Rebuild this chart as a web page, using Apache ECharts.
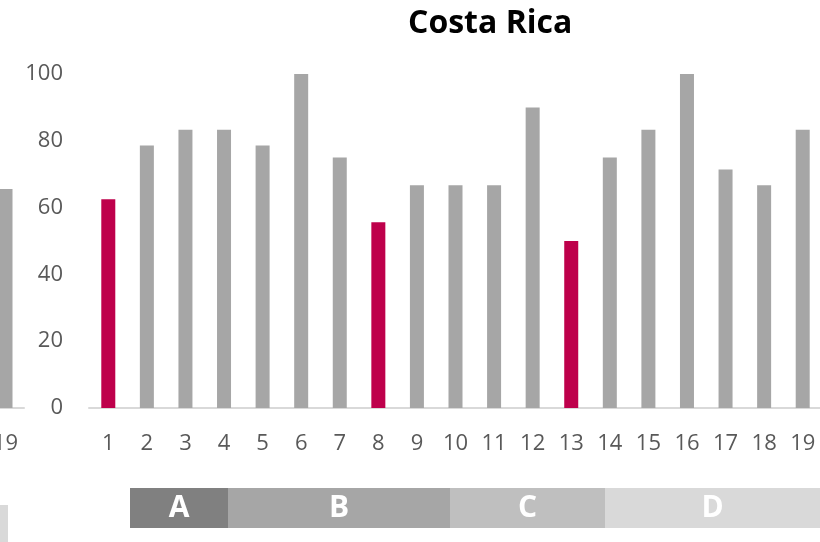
<!DOCTYPE html>
<html>
<head>
<meta charset="utf-8">
<script src="https://cdn.jsdelivr.net/npm/echarts@6/dist/echarts.min.js"></script>
<style>
  html, body { margin: 0; padding: 0; background: #fff; }
  #chart { width: 820px; height: 542px; }
</style>
</head>
<body>
<div id="chart"></div>
<script>
// data
const categories = ['1','2','3','4','5','6','7','8','9','10','11','12','13','14','15','16','17','18','19']
const values = [62.5, 78.6, 83.3, 83.3, 78.6, 100, 75, 55.6, 66.7, 66.7, 66.7, 90, 50, 75, 83.3, 100, 71.4, 66.7, 83.3]
const highlighted = ['1', '8', '13']
const yTicks = [0, 20, 40, 60, 80, 100]

// group strip below the chart (relative widths)
const groupNames = ['A', 'B', 'C', 'D']
const groupWidths = [98, 222, 155, 215]
const groupColors = ['#808080', '#a6a6a6', '#bfbfbf', '#d9d9d9']

// neighbouring chart, cut off at the left edge (last category only)
const prevCategories = ['19']
const prevValues = [65.6]
const prevStrip = [8]

const gray = '#a6a6a6'
const red = '#be004b'
const labelColor = '#595959'
const font = 'Open Sans'

const chart = echarts.init(document.getElementById('chart'))

const groupSeries = groupNames.map((name, i) => ({
  name,
  type: 'bar',
  stack: 'groups',
  xAxisIndex: 2,
  yAxisIndex: 2,
  barWidth: 40,
  silent: true,
  itemStyle: { color: groupColors[i] },
  label: {
    show: true,
    position: 'inside',
    formatter: name,
    color: '#fff',
    fontSize: 30,
    fontWeight: 'bold',
    fontFamily: font
  },
  data: [groupWidths[i]]
}))

chart.setOption({
  animation: false,
  textStyle: { fontFamily: font },
  title: {
    text: 'Costa Rica',
    left: 403,
    top: 3,
    textStyle: { fontSize: 32, fontWeight: 'bold', color: '#000', fontFamily: font }
  },
  grid: [
    { left: 89, right: -2, top: 74, bottom: 134, outerBoundsMode: 'none' },
    { left: -13, width: 37, top: 74, bottom: 134, outerBoundsMode: 'none' },
    { left: 130, right: 0, top: 488, height: 40, outerBoundsMode: 'none' },
    { left: 0, width: 8, top: 505, height: 37, outerBoundsMode: 'none' }
  ],
  xAxis: [
    {
      gridIndex: 0,
      type: 'category',
      data: categories,
      axisLine: { lineStyle: { color: '#d9d9d9', width: 2 } },
      axisTick: { show: false },
      axisLabel: { color: labelColor, fontSize: 22, margin: 25 }
    },
    {
      gridIndex: 1,
      type: 'category',
      data: prevCategories,
      axisLine: { lineStyle: { color: '#d9d9d9', width: 2 } },
      axisTick: { show: false },
      axisLabel: { color: labelColor, fontSize: 22, margin: 25 }
    },
    {
      gridIndex: 2,
      type: 'value',
      min: 0,
      max: groupWidths.reduce((a, b) => a + b, 0),
      show: false
    },
    { gridIndex: 3, type: 'value', min: 0, max: prevStrip[0], show: false }
  ],
  yAxis: [
    {
      gridIndex: 0,
      type: 'value',
      min: 0,
      max: 100,
      interval: 20,
      axisLine: { show: false },
      axisTick: { show: false },
      splitLine: { show: false },
      axisLabel: {
        color: labelColor,
        fontSize: 22,
        margin: 26,
        formatter: v => (yTicks.includes(v) ? String(v) : '')
      }
    },
    { gridIndex: 1, type: 'value', min: 0, max: 100, show: false },
    { gridIndex: 2, type: 'category', data: [''], show: false },
    { gridIndex: 3, type: 'category', data: [''], show: false }
  ],
  series: [
    {
      type: 'bar',
      xAxisIndex: 0,
      yAxisIndex: 0,
      barWidth: 14,
      data: values.map((v, i) => ({
        value: v,
        itemStyle: { color: highlighted.includes(categories[i]) ? red : gray }
      }))
    },
    {
      type: 'bar',
      xAxisIndex: 1,
      yAxisIndex: 1,
      barWidth: 14,
      itemStyle: { color: gray },
      data: prevValues
    },
    ...groupSeries,
    {
      type: 'bar',
      xAxisIndex: 3,
      yAxisIndex: 3,
      barWidth: 37,
      silent: true,
      itemStyle: { color: '#d9d9d9' },
      data: prevStrip
    }
  ]
})
</script>
</body>
</html>
